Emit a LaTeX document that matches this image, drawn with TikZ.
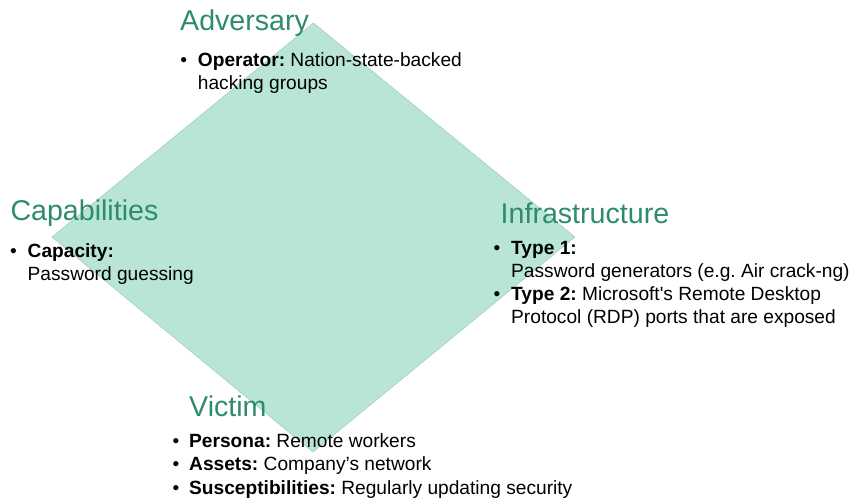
\documentclass[tikz,border=0pt]{standalone}
\usepackage{fontspec}
\setmainfont{Liberation Sans}
\usetikzlibrary{positioning}
\definecolor{diamondfill}{HTML}{B8E5D7}
\definecolor{headgreen}{HTML}{2E8B6E}
\frenchspacing

\begin{document}
\begin{tikzpicture}[x=1pt,y=-1pt,
  heading/.style={anchor=base west, inner sep=0pt, text=headgreen, font=\fontsize{28.6}{33}\selectfont},
  bullets/.style={anchor=base west, inner sep=0pt, font=\fontsize{19.15}{23.3}\selectfont}]
            \useasboundingbox (0,0) rectangle (855,501);
            \coordinate (d_top) at (313.5,23);
            \coordinate (d_right) at (575,237);
            \coordinate (d_bottom) at (313,452);
            \coordinate (d_left) at (52,237);
            \filldraw[fill=diamondfill, draw=diamondfill!88!black, line width=0.5pt]
            (d_top) -- (d_right) -- (d_bottom) -- (d_left) -- cycle;
            \node[heading] (adv) at (180,30) {Adversary};
            \node[heading] (cap) at (10.3,220) {Capabilities};
            \node[heading] (inf) at (500.5,223) {Infrastructure};
            \node[heading] (vic) at (189,416) {Victim};
            \node[bullets] (adv_list) at (180.2,66.5) {\begin{tabular}[t]{@{}p{17.5pt}@{}l@{}}
              \textbullet & \textbf{Operator:} Nation-state-backed\\
                          & hacking groups
            \end{tabular}};
            \node[bullets] (cap_list) at (10,257.5) {\begin{tabular}[t]{@{}p{17.5pt}@{}l@{}}
              \textbullet & \textbf{Capacity:}\\
                          & Password guessing
            \end{tabular}};
            \node[bullets] (inf_list) at (493.5,254) {\begin{tabular}[t]{@{}p{17.5pt}@{}l@{}}
              \textbullet & \textbf{Type 1:}\\
                          & Password generators (e.g. Air crack-ng)\\
              \textbullet & \textbf{Type 2:} Microsoft\textquotesingle s Remote Desktop\\
                          & Protocol (RDP) ports that are exposed
            \end{tabular}};
            \node[bullets] (vic_list) at (172.5,447.5) {\begin{tabular}[t]{@{}p{16.5pt}@{}l@{}}
              \textbullet & \textbf{Persona:} Remote workers\\
              \textbullet & \textbf{Assets:} Company’s network\\
              \textbullet & \textbf{Susceptibilities:} Regularly updating security
            \end{tabular}};
\end{tikzpicture}
\end{document}
